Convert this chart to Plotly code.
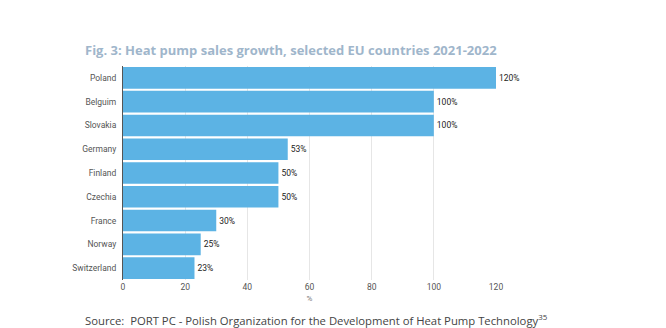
import plotly.graph_objects as go

countries = ["Poland", "Belguim", "Slovakia", "Germany", "Finland", "Czechia", "France", "Norway", "Switzerland"]
growth = [120, 100, 100, 53, 50, 50, 30, 25, 23]
labels = [f"{v}%" for v in growth]
xticks = [0, 20, 40, 60, 80, 100, 120]

fig = go.Figure(go.Bar(
    x=growth, y=countries, orientation="h",
    marker=dict(color="#5cb3e4", line=dict(width=0)),
    text=labels, textposition="outside", cliponaxis=False,
    textfont=dict(size=8.5, color="#222222", family="Roboto"),
))

fig.update_layout(
    width=666, height=328,
    margin=dict(l=123, r=170, t=66, b=48),
    paper_bgcolor="white", plot_bgcolor="white",
    showlegend=False,
    bargap=0.09,
    font=dict(family="Roboto", size=8.5, color="#444444"),
    xaxis=dict(range=[0, 120], tickvals=xticks, showgrid=True, gridcolor="#e6e6e6",
               gridwidth=1, zeroline=False, showline=False, ticks="",
               tickfont=dict(size=8.5, color="#555555"),
               title=dict(text="%", font=dict(size=8, color="#777777"), standoff=4)),
    yaxis=dict(categoryorder="array", categoryarray=countries[::-1], showline=True,
               linecolor="#555555", linewidth=1, ticks="outside", ticklen=4, tickcolor="white",
               showgrid=False, tickfont=dict(size=8.5, color="#555555")),
    annotations=[
        dict(text="<b>Fig. 3: Heat pump sales growth, selected EU countries 2021-2022</b>",
             xref="paper", yref="paper", x=-0.107, y=1.075, xanchor="left", yanchor="middle",
             showarrow=False, font=dict(family="Open Sans", size=13, color="#9fb6cb")),
        dict(text="Source:  PORT PC - Polish Organization for the Development of Heat Pump Technology<sup>35</sup>",
             xref="paper", yref="paper", x=-0.107, y=-0.187, xanchor="left", yanchor="middle",
             showarrow=False, font=dict(family="Open Sans", size=11.3, color="#444444")),
    ],
)

fig.write_html("out.html")
